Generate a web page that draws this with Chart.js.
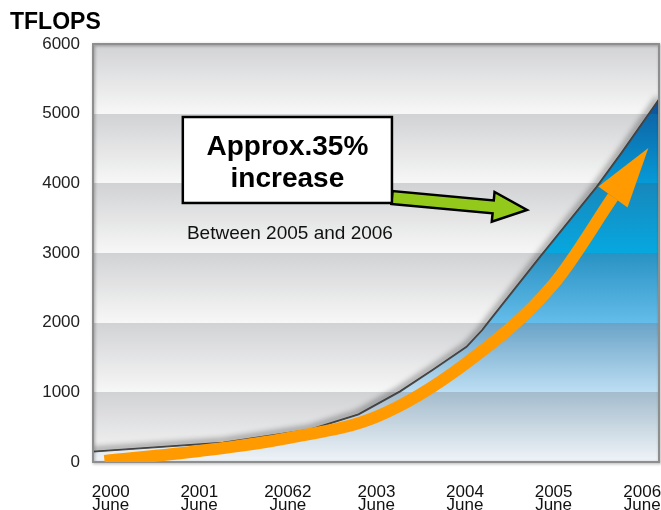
<!DOCTYPE html>
<html>
<head>
<meta charset="utf-8">
<script src="https://cdn.jsdelivr.net/npm/chart.js@4.4.1/dist/chart.umd.min.js"></script>
<style>
  html, body { margin: 0; padding: 0; background: #fff; }
  #wrap { width: 661px; height: 510px; }
</style>
</head>
<body>
<div id="wrap"><canvas id="perfChart" width="661" height="510"></canvas></div>
<script>
// x values are years after June 2000
const yearTicks = [0, 1, 2, 3, 4, 5, 6];
const yearLabels = [
    ['2000', 'June'], ['2001', 'June'], ['20062', 'June'], ['2003', 'June'],
    ['2004', 'June'], ['2005', 'June'], ['2006', 'June']
];
const tflopsTicks = [0, 1000, 2000, 3000, 4000, 5000, 6000];

// total performance (area)
const areaYears = [-0.2, 1.27, 2.25, 2.8, 3.27, 3.64, 4.02, 4.2, 4.26, 4.85, 5.49, 5.77, 6.19];
const areaTflops = [144, 273, 459, 680, 1010, 1320, 1650, 1895, 1995, 2942, 3947, 4435, 5196];

// orange trend arrow
const trendYears = [-0.07, 1, 2, 3, 4, 5, 5.67];
const trendTflops = [14, 158, 344, 650, 1407, 2555, 3804];
const trendTip = { x: 6.07, y: 4507 };

const noteLines = ['Approx.35%', 'increase'];
const noteSub = 'Between 2005 and 2006';
const axisTitle = 'TFLOPS';

const FONT = "'Liberation Sans', Arial, Helvetica, sans-serif";

// band colours, bottom -> top, [bottom of band, top of band]
const grayBands = [
    ['#f7f7f7', '#d1d2d4'], ['#f7f7f7', '#d1d2d4'], ['#f7f7f7', '#d1d2d4'],
    ['#f7f7f7', '#d1d2d4'], ['#f7f7f7', '#d1d2d4'], ['#f7f7f7', '#d1d2d4']
];
const blueBands = [
    ['#eff4f8', '#a4bccd'], ['#bddef3', '#6aa3c7'], ['#64bce9', '#2892c3'],
    ['#06a8e0', '#1787bb'], ['#069ad7', '#0e66a7'], ['#0c58a1', '#0a4a90']
];

// note placement in data space
const note = {
    box: { x0: 0.814, x1: 3.175, yTop: 4952, yBottom: 3718 },
    arrowTail: { x: 3.175, y: 3797 },
    arrowTip: { x: 4.70, y: 3617 },
    sub: { x: 0.86, y: 3201 }
};

// Build a banded vertical gradient over the y scale
const bandGradient = (ctx, yScale, bands) => {
    const y0 = yScale.getPixelForValue(tflopsTicks[0]);
    const y1 = yScale.getPixelForValue(tflopsTicks[tflopsTicks.length - 1]);
    const g = ctx.createLinearGradient(0, y0, 0, y1);
    const span = y0 - y1;
    bands.forEach((b, i) => {
        const t0 = (y0 - yScale.getPixelForValue(tflopsTicks[i])) / span;
        const t1 = (y0 - yScale.getPixelForValue(tflopsTicks[i + 1])) / span;
        g.addColorStop(Math.max(0, Math.min(1, t0)), b[0]);
        g.addColorStop(Math.max(0, Math.min(1, t1)), b[1]);
    });
    return g;
};

const toPx = (chart, p) => ({
    x: chart.scales.x.getPixelForValue(p.x),
    y: chart.scales.y.getPixelForValue(p.y)
});

const decorPlugin = {
    id: 'decor',
    beforeDatasetsDraw(chart) {
        const { ctx, chartArea: a } = chart;
        ctx.save();
        ctx.fillStyle = bandGradient(ctx, chart.scales.y, grayBands);
        ctx.fillRect(a.left, a.top, a.right - a.left, a.bottom - a.top);

        // soft shadow along the top of the area
        const pts = chart.getDatasetMeta(1).data;
        ctx.beginPath();
        ctx.rect(a.left, a.top, a.right - a.left, a.bottom - a.top);
        ctx.clip();
        ctx.shadowColor = 'rgba(0,0,0,0.75)';
        ctx.shadowBlur = 6;
        ctx.shadowOffsetX = -1;
        ctx.shadowOffsetY = -2;
        ctx.strokeStyle = 'rgba(60,60,60,1)';
        ctx.lineWidth = 2.5;
        ctx.lineJoin = 'round';
        ctx.beginPath();
        pts.forEach((p, i) => (i ? ctx.lineTo(p.x, p.y) : ctx.moveTo(p.x, p.y)));
        ctx.stroke();
        ctx.restore();
    },
    afterDatasetDraw(chart, args) {
        if (args.index !== 1) return;
        const { ctx, chartArea: a } = chart;
        ctx.save();
        ctx.shadowColor = 'rgba(0,0,0,0.35)';
        ctx.shadowBlur = 3;
        ctx.shadowOffsetX = 1;
        ctx.shadowOffsetY = 1;
        ctx.strokeStyle = '#8e8e8e';
        ctx.lineWidth = 2;
        ctx.strokeRect(a.left, a.top, a.right - a.left, a.bottom - a.top);
        ctx.restore();
    },
    afterDatasetsDraw(chart) {
        const { ctx } = chart;

        // orange arrow head
        const pts = chart.getDatasetMeta(0).data;
        const base = pts[pts.length - 1];
        const tip = toPx(chart, trendTip);
        let dx = tip.x - base.x, dy = tip.y - base.y;
        const len = Math.hypot(dx, dy);
        dx /= len; dy /= len;
        const half = 18;
        ctx.save();
        ctx.fillStyle = '#ff9a00';
        ctx.beginPath();
        ctx.moveTo(base.x - dy * half, base.y + dx * half);
        ctx.lineTo(tip.x, tip.y);
        ctx.lineTo(base.x + dy * half, base.y - dx * half);
        ctx.closePath();
        ctx.fill();
        ctx.restore();

        // green arrow
        const t = toPx(chart, note.arrowTail);
        const h = toPx(chart, note.arrowTip);
        let ux = h.x - t.x, uy = h.y - t.y;
        const L = Math.hypot(ux, uy);
        ux /= L; uy /= L;
        const nx = -uy, ny = ux;
        const sw = 6.5, hw = 15, hl = 34;
        const j = { x: h.x - ux * hl, y: h.y - uy * hl };
        ctx.save();
        ctx.beginPath();
        ctx.moveTo(t.x + nx * sw, t.y + ny * sw);
        ctx.lineTo(j.x + nx * sw, j.y + ny * sw);
        ctx.lineTo(j.x + nx * hw, j.y + ny * hw);
        ctx.lineTo(h.x, h.y);
        ctx.lineTo(j.x - nx * hw, j.y - ny * hw);
        ctx.lineTo(j.x - nx * sw, j.y - ny * sw);
        ctx.lineTo(t.x - nx * sw, t.y - ny * sw);
        ctx.closePath();
        ctx.fillStyle = '#93c91a';
        ctx.fill();
        ctx.lineWidth = 2.5;
        ctx.lineJoin = 'miter';
        ctx.strokeStyle = '#000';
        ctx.stroke();

        // note box
        const b0 = toPx(chart, { x: note.box.x0, y: note.box.yTop });
        const b1 = toPx(chart, { x: note.box.x1, y: note.box.yBottom });
        ctx.fillStyle = '#fff';
        ctx.fillRect(b0.x, b0.y, b1.x - b0.x, b1.y - b0.y);
        ctx.lineWidth = 2.5;
        ctx.strokeRect(b0.x, b0.y, b1.x - b0.x, b1.y - b0.y);
        ctx.fillStyle = '#000';
        ctx.font = `bold 28px ${FONT}`;
        ctx.textAlign = 'center';
        ctx.textBaseline = 'alphabetic';
        const cx = (b0.x + b1.x) / 2;
        ctx.fillText(noteLines[0], cx, b0.y + 38);
        ctx.fillText(noteLines[1], cx, b0.y + 70);

        const s = toPx(chart, note.sub);
        ctx.font = `19px ${FONT}`;
        ctx.textAlign = 'left';
        ctx.fillStyle = '#111';
        ctx.fillText(noteSub, s.x, s.y);
        ctx.restore();
    },
    afterDraw(chart) {
        const { ctx } = chart;
        ctx.save();
        ctx.font = `bold 23px ${FONT}`;
        ctx.fillStyle = '#000';
        ctx.textAlign = 'left';
        ctx.textBaseline = 'alphabetic';
        ctx.fillText(axisTitle, 10, 29);
        ctx.restore();
    }
};

const ctx = document.getElementById('perfChart').getContext('2d');
new Chart(ctx, {
    type: 'line',
    data: {
        datasets: [
            {
                label: 'trend',
                data: trendYears.map((x, i) => ({ x, y: trendTflops[i] })),
                borderColor: '#ff9a00',
                borderWidth: 12,
                borderCapStyle: 'butt',
                cubicInterpolationMode: 'monotone',
                pointRadius: 0,
                fill: false
            },
            {
                label: 'TFLOPS',
                data: areaYears.map((x, i) => ({ x, y: areaTflops[i] })),
                borderColor: 'rgba(70,70,70,0.95)',
                borderWidth: 1.2,
                tension: 0,
                pointRadius: 0,
                fill: 'origin',
                backgroundColor: (c) => {
                    const chart = c.chart;
                    if (!chart.chartArea) return 'rgba(0,0,0,0)';
                    return bandGradient(chart.ctx, chart.scales.y, blueBands);
                }
            }
        ]
    },
    options: {
        responsive: false,
        animation: false,
        layout: { padding: { top: 44, right: 2, left: 0, bottom: 0 } },
        plugins: {
            legend: { display: false },
            tooltip: { enabled: false }
        },
        scales: {
            x: {
                type: 'linear',
                min: -0.2,
                max: 6.19,
                grid: { display: false, drawTicks: false },
                border: { display: false },
                afterBuildTicks: (s) => { s.ticks = yearTicks.map(v => ({ value: v })); },
                afterFit: (s) => { s.height = 48; s.paddingLeft = 0; s.paddingRight = 0; },
                ticks: {
                    autoSkip: false,
                    maxRotation: 0,
                    padding: 24,
                    color: '#111',
                    font: { family: FONT, size: 17, lineHeight: 0.77 },
                    callback: (v, i) => yearLabels[i]
                }
            },
            y: {
                min: 0,
                max: 6000,
                grid: { display: false, drawTicks: false },
                border: { display: false },
                afterBuildTicks: (s) => { s.ticks = tflopsTicks.map(v => ({ value: v })); },
                afterFit: (s) => { s.width = 93; s.paddingTop = 0; s.paddingBottom = 0; },
                ticks: {
                    padding: 13,
                    color: '#222',
                    font: { family: FONT, size: 17 },
                    callback: (v) => String(v)
                }
            }
        }
    },
    plugins: [decorPlugin]
});
</script>
</body>
</html>
